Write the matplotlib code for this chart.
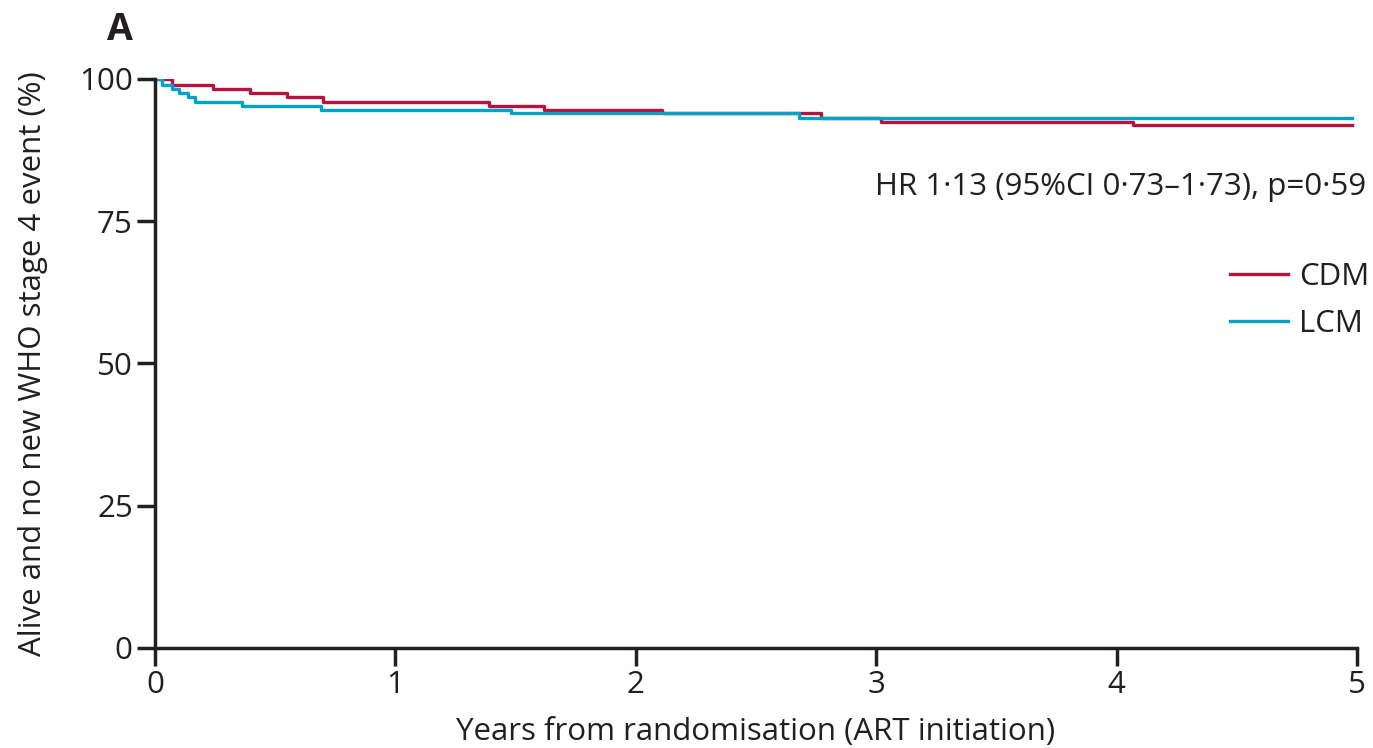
import numpy as np
import matplotlib
matplotlib.use("Agg")
import matplotlib.pyplot as plt

plt.rcParams['font.family'] = ['Open Sans', 'DejaVu Sans']

# Kaplan-Meier step data (years, % event-free)
cdm_t = [0, 0.069, 0.24, 0.395, 0.55, 0.70, 1.39, 1.62, 2.11, 2.77, 3.02, 4.07, 4.98]
cdm_s = [100, 98.9, 98.2, 97.5, 96.8, 95.9, 95.3, 94.6, 94.0, 93.2, 92.5, 91.9, 91.9]

lcm_t = [0, 0.028, 0.069, 0.10, 0.136, 0.166, 0.36, 0.69, 1.48, 2.68, 4.98]
lcm_s = [100, 98.9, 98.2, 97.5, 96.8, 95.9, 95.3, 94.6, 94.0, 93.2, 93.2]

yticks = [0, 25, 50, 75, 100]
xticks = [0, 1, 2, 3, 4, 5]

red = '#B8123F'
blue = '#00A3C8'
ink = '#231f20'

fig = plt.figure(figsize=(13.73, 7.48), dpi=100)
ax = fig.add_axes([0.1129, 0.1337, 0.8754, 0.7607])

ax.step(cdm_t, cdm_s, where='post', color=red, lw=2.4, label='CDM', zorder=2)
ax.step(lcm_t, lcm_s, where='post', color=blue, lw=2.4, label='LCM', zorder=3)

ax.set_xlim(0, 5)
ax.set_ylim(0, 100)
ax.set_xticks(xticks)
ax.set_yticks(yticks)
for s in ['top', 'right']:
    ax.spines[s].set_visible(False)
for s in ['left', 'bottom']:
    ax.spines[s].set_linewidth(2.5)
    ax.spines[s].set_color(ink)
ax.tick_params(direction='out', length=13, width=2.5, color=ink,
               labelsize=22.5, labelcolor=ink, pad=3)
ax.spines['left'].set_zorder(5)

ax.set_xlabel('Years from randomisation (ART initiation)', fontsize=22.5,
              color=ink, labelpad=12)
ax.set_ylabel('Alive and no new WHO stage 4 event (%)', fontsize=22.5,
              color=ink, labelpad=22)

ax.text(1.008, 0.81, 'HR 1·13 (95%CI 0·73–1·73), p=0·59', transform=ax.transAxes,
        ha='right', va='center', fontsize=22.5, color=ink)

leg = ax.legend(loc='upper right', bbox_to_anchor=(1.026, 0.711), frameon=False,
                fontsize=22.5, handlelength=1.85, handletextpad=0.35, labelspacing=0.55,
                borderaxespad=0.2)
for t in leg.get_texts():
    t.set_color(ink)

fig.text(0.078, 0.96, 'A', fontsize=27, fontweight='bold', color=ink,
         ha='left', va='center')

fig.savefig('out.png', dpi=100)
